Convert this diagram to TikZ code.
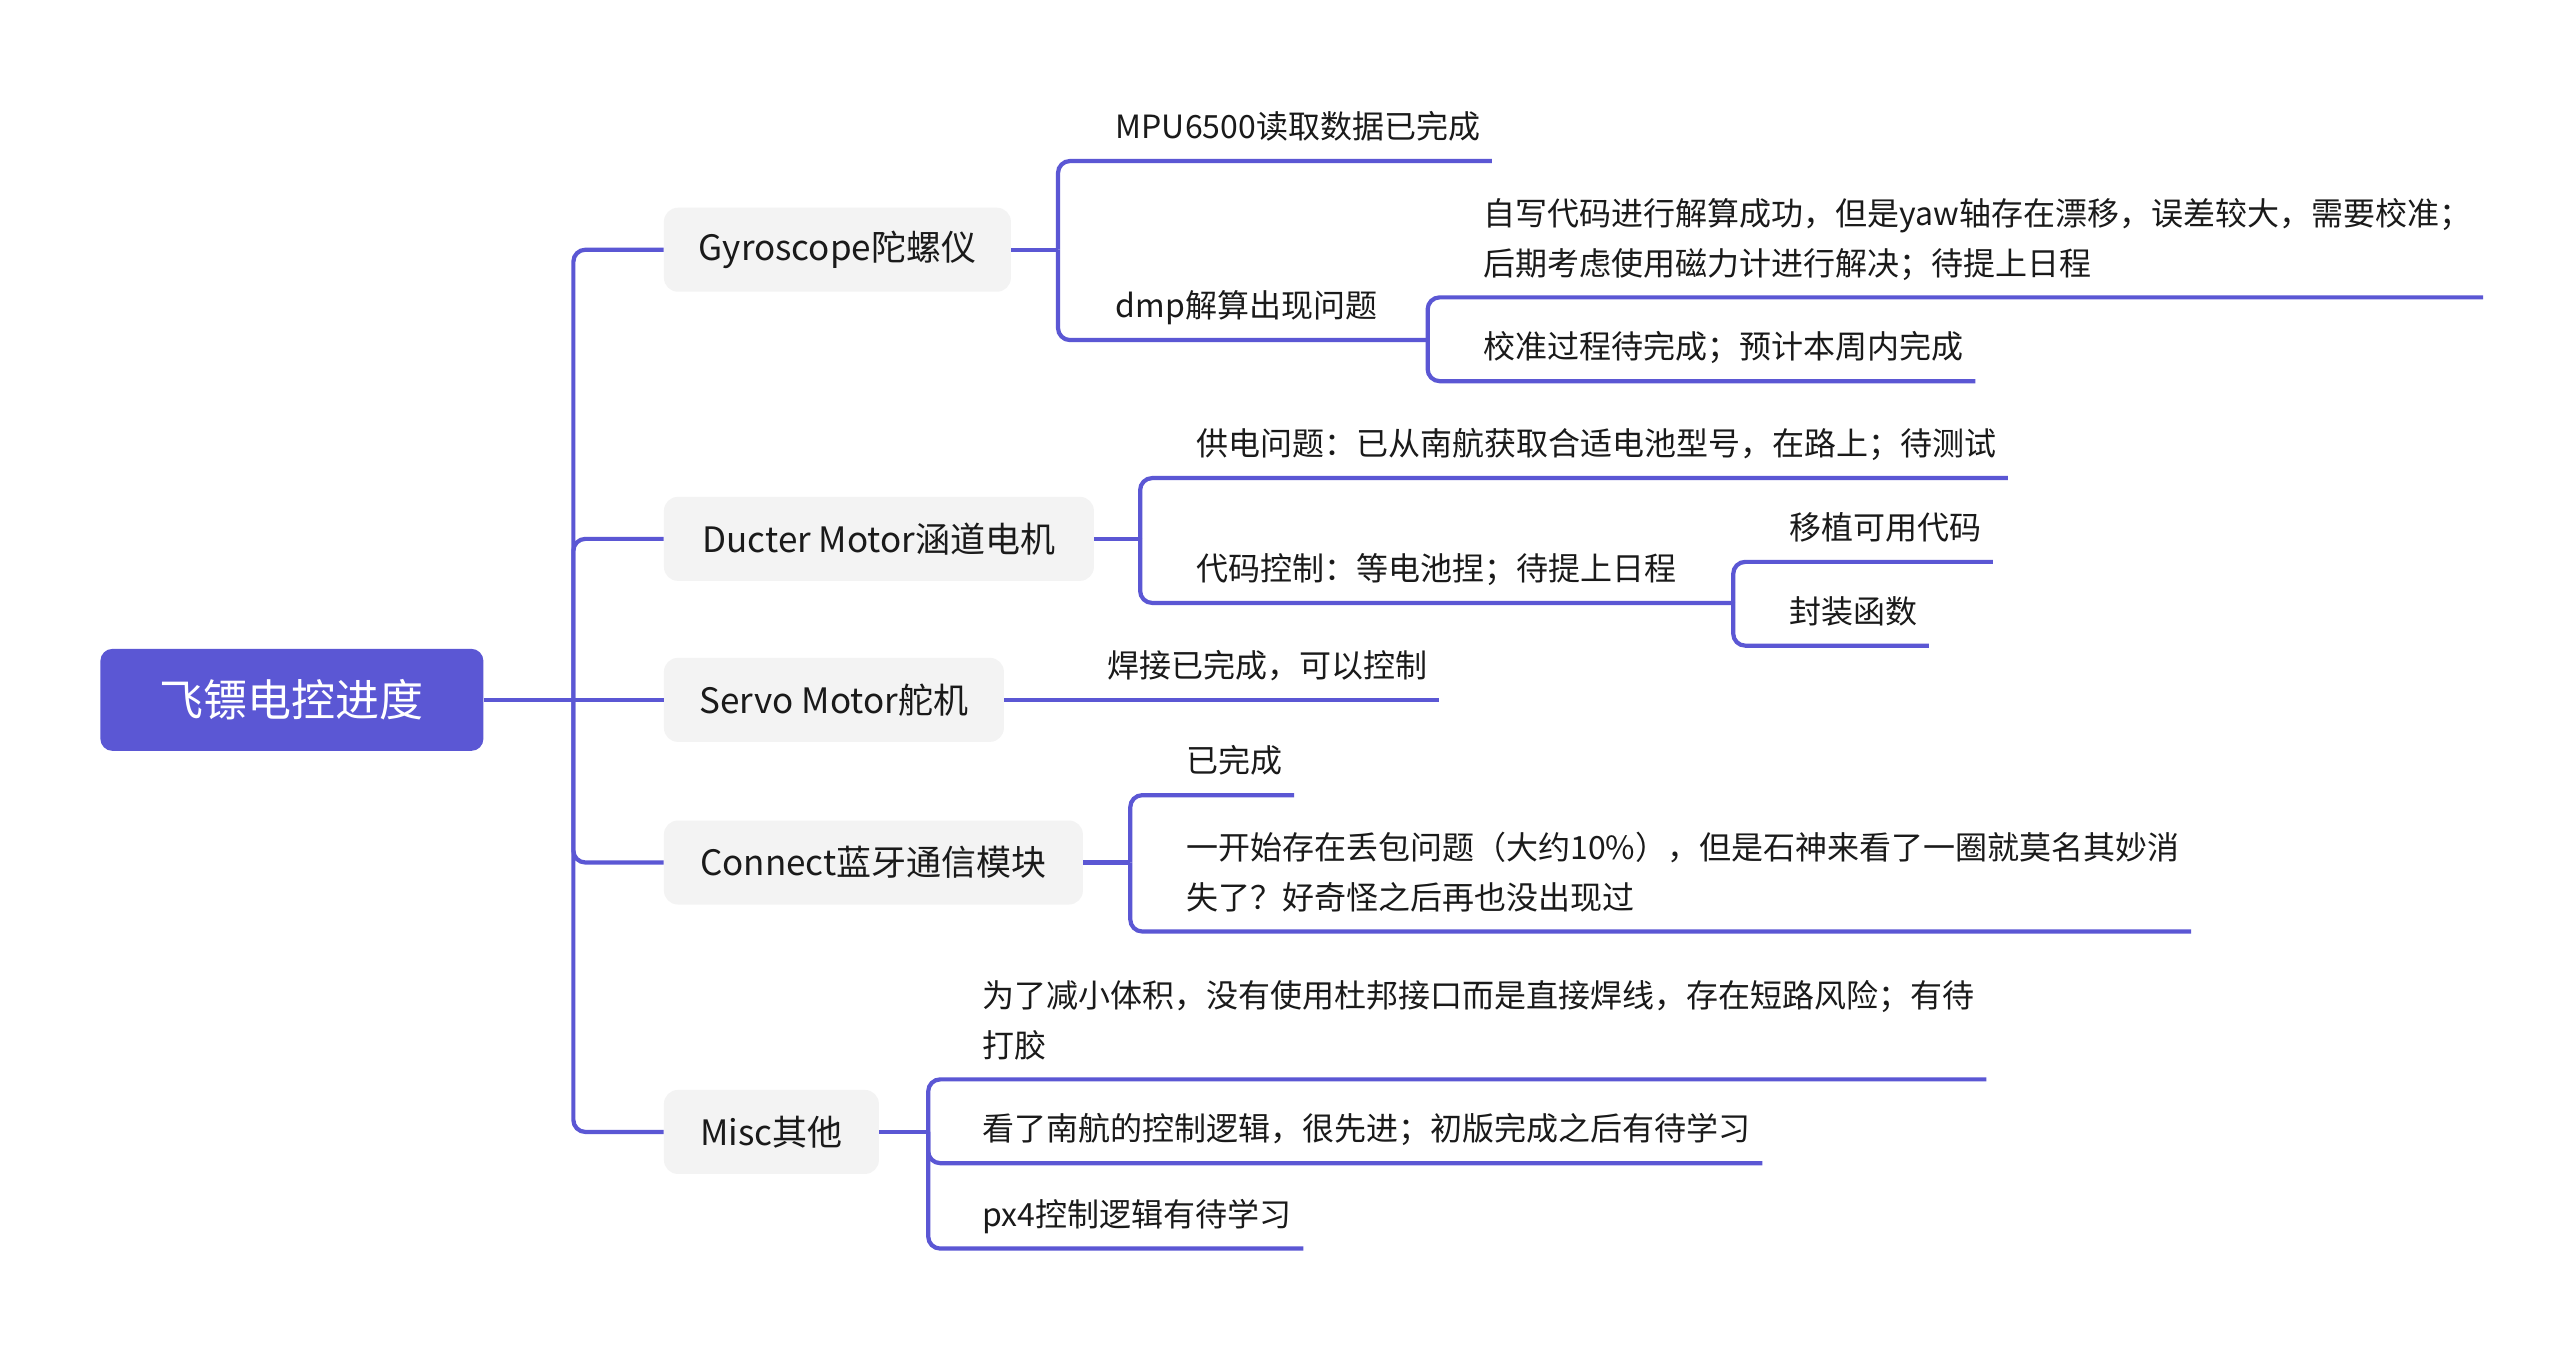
\documentclass[tikz,border=0pt]{standalone}
\usepackage{fontspec}
\setmainfont{Noto Sans CJK SC}
\definecolor{mmpurple}{HTML}{5B57D4}
\definecolor{mmgray}{HTML}{F3F3F3}
\definecolor{mmtext}{HTML}{1A1A1A}
% depth strut: puts the node's south edge on the underline
\newcommand\ulstrut{\rule[-22pt]{0pt}{22pt}}

\begin{document}
\begin{tikzpicture}[x=1.6429pt,y=-1.6429pt,
  edge/.style={draw=mmpurple,line width=4.2pt,rounded corners=12pt},
  trunk/.style={draw=mmpurple,line width=4.2pt},
  rootbox/.style={fill=mmpurple,text=white,rounded corners=12pt,
    minimum height=102pt,minimum width=383pt,inner sep=0pt,
    font=\fontsize{44}{52}\selectfont},
  topic/.style={fill=mmgray,text=mmtext,rounded corners=14pt,anchor=west,
    minimum height=84pt,inner sep=0pt,font=\fontsize{35}{42}\selectfont},
  leaf/.style={anchor=south west,inner xsep=11.5pt,inner ysep=0pt,
    text=mmtext,align=left,font=\fontsize{32}{50}\selectfont,
    execute at end node=\ulstrut},
]
\fill[white] (0,0) rectangle (1568,822);
\useasboundingbox (0,0) rectangle (1568,822);

% central topic and main branches
\node[rootbox,anchor=west] (root) at (61,426) {飞镖电控进度};
\node[topic,minimum width=347pt] (gyro)    at (404,152) {Gyroscope陀螺仪};
\node[topic,minimum width=430pt] (ducter)  at (404,328) {Ducter Motor涵道电机};
\node[topic,minimum width=340pt] (servo)   at (404,426) {Servo Motor舵机};
\node[topic,minimum width=419pt] (connect) at (404,525) {Connect蓝牙通信模块};
\node[topic,minimum width=215pt] (misc)    at (404,689) {Misc其他};

% gyroscope details
\node[leaf] (mpu)   at (672,98)  {MPU6500读取数据已完成};
\node[leaf] (dmp)   at (672,207) {dmp解算出现问题};
\node[leaf] (yaw)   at (896,181) {自写代码进行解算成功，但是yaw轴存在漂移，误差较大，需要校准；\\后期考虑使用磁力计进行解决；待提上日程};
\node[leaf] (calib) at (896,232) {校准过程待完成；预计本周内完成};

% ducted motor details
\node[leaf] (power) at (721,291)  {供电问题：已从南航获取合适电池型号，在路上；待测试};
\node[leaf] (code)  at (721,367)  {代码控制：等电池捏；待提上日程};
\node[leaf] (port)  at (1082,342) {移植可用代码};
\node[leaf] (wrap)  at (1082,393) {封装函数};

% servo details
\node[leaf] (weld) at (667,426) {焊接已完成，可以控制};

% bluetooth details
\node[leaf] (done) at (715,484) {已完成};
\node[leaf] (loss) at (715,567) {一开始存在丢包问题（大约10\%），但是石神来看了一圈就莫名其妙消\\失了？好奇怪之后再也没出现过};

% misc details
\node[leaf] (glue)    at (591,657) {为了减小体积，没有使用杜邦接口而是直接焊线，存在短路风险；有待\\打胶};
\node[leaf] (nhlogic) at (591,708) {看了南航的控制逻辑，很先进；初版完成之后有待学习};
\node[leaf] (px4)     at (591,760) {px4控制逻辑有待学习};

% branch junctions
\coordinate (hub)      at (349,426);
\coordinate (gyrohub)  at (644,152);
\coordinate (dmphub)   at (869,207);
\coordinate (ducthub)  at (694,328);
\coordinate (codehub)  at (1055,367);
\coordinate (connhub)  at (688,525);
\coordinate (mischub)  at (565,689);

% main branches
\draw[trunk] (root.east) -- (servo.west);
\draw[edge] (hub) |- (gyro.west);
\draw[edge] (hub) |- (ducter.west);
\draw[edge] (hub) |- (connect.west);
\draw[edge] (hub) |- (misc.west);

% gyroscope
\draw[trunk] (gyro.east) -- (gyrohub);
\draw[edge] (gyrohub) |- (mpu.south east);
\draw[edge] (gyrohub) |- (dmphub);
\draw[edge] (dmphub) |- (yaw.south east);
\draw[edge] (dmphub) |- (calib.south east);

% ducted motor
\draw[trunk] (ducter.east) -- (ducthub);
\draw[edge] (ducthub) |- (power.south east);
\draw[edge] (ducthub) |- (codehub);
\draw[edge] (codehub) |- (port.south east);
\draw[edge] (codehub) |- (wrap.south east);

% servo
\draw[trunk] (servo.east) -- (weld.south east);

% bluetooth
\draw[trunk] (connect.east) -- (connhub);
\draw[edge] (connhub) |- (done.south east);
\draw[edge] (connhub) |- (loss.south east);

% misc
\draw[trunk] (misc.east) -- (mischub);
\draw[edge] (mischub) |- (glue.south east);
\draw[edge] (mischub) |- (nhlogic.south east);
\draw[edge] (mischub) |- (px4.south east);
\end{tikzpicture}
\end{document}
